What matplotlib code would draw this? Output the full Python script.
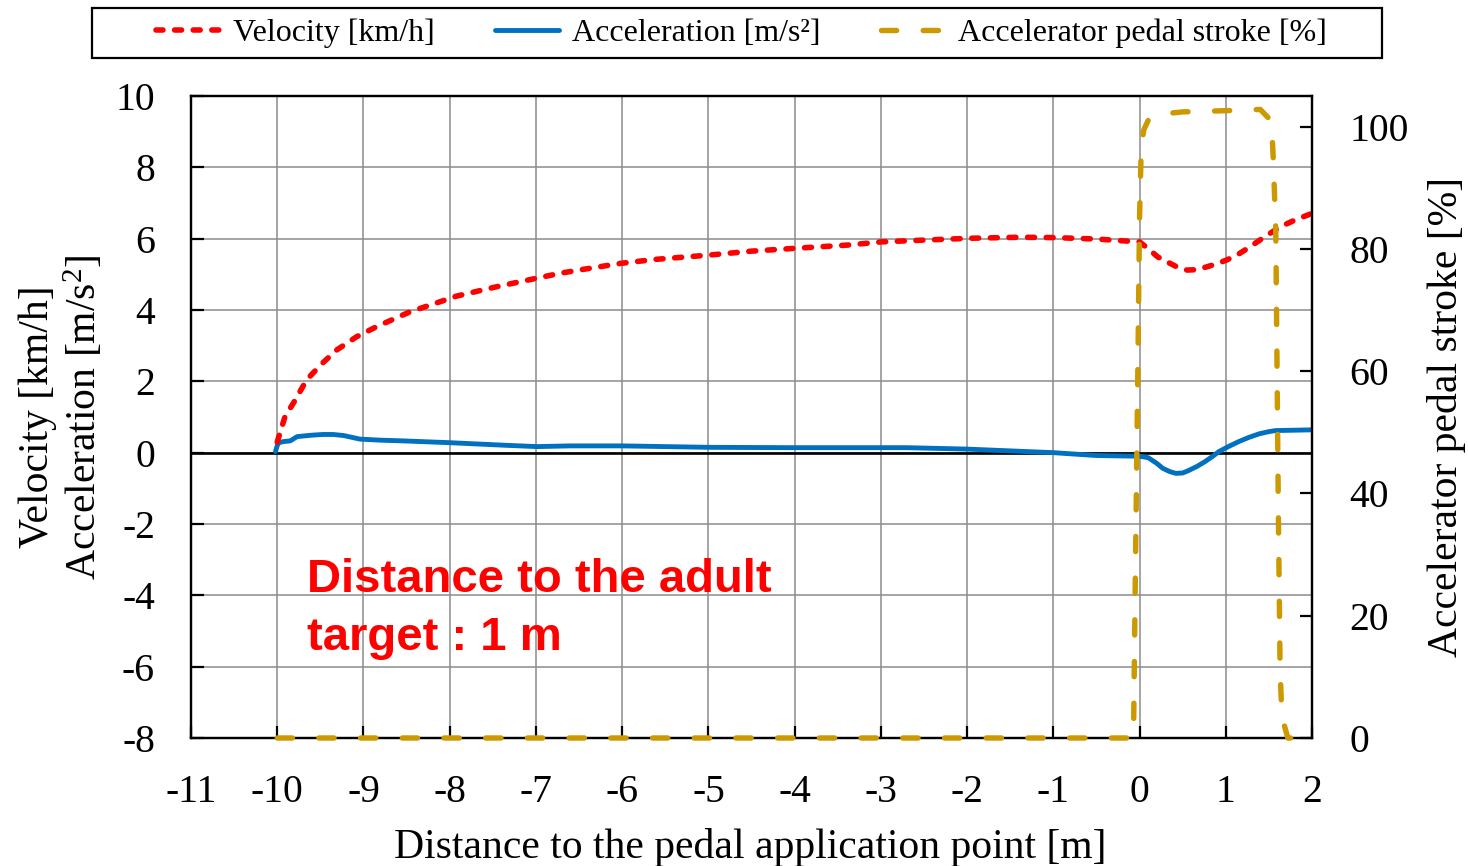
import matplotlib
matplotlib.use("Agg")
import matplotlib.pyplot as plt
from matplotlib.patches import Rectangle

# ---------------- data ----------------
vel_x = [-10.0, -9.91, -9.79, -9.66, -9.48, -9.31, -9.08, -8.85, -8.46, -8.15, -7.92,
         -7.46, -7.15, -6.72, -6.45, -6.01, -5.61, -4.99, -4.5, -3.99, -3.39, -2.99,
         -2.5, -1.99, -1.39, -0.99, -0.5, -0.19, 0.0, 0.1, 0.21, 0.32, 0.44, 0.55,
         0.66, 0.78, 0.9, 1.01, 1.15, 1.28, 1.45, 1.63, 1.8, 2.0]
vel_y = [0.3, 1.01, 1.48, 2.04, 2.50, 2.88, 3.25, 3.53, 3.95, 4.20, 4.39,
         4.65, 4.81, 5.03, 5.14, 5.31, 5.42, 5.54, 5.65, 5.73, 5.82, 5.91,
         5.96, 6.01, 6.04, 6.03, 5.99, 5.94, 5.91, 5.72, 5.49, 5.35, 5.2, 5.12,
         5.13, 5.21, 5.3, 5.40, 5.57, 5.77, 6.05, 6.33, 6.52, 6.71]

acc_x = [-10.02, -10.0, -9.98, -9.93, -9.85, -9.77, -9.6, -9.47, -9.35, -9.23, -9.04,
         -8.8, -8.54, -8.0, -7.38, -6.99, -6.6, -6.0, -5.0, -4.05, -2.7, -2.0, -1.5,
         -1.0, -0.5, 0.0, 0.1, 0.2, 0.27, 0.35, 0.42, 0.5, 0.57, 0.67, 0.76, 0.85,
         0.92, 1.03, 1.15, 1.27, 1.39, 1.5, 1.58, 1.8, 2.0]
acc_y = [0.03, 0.2, 0.28, 0.31, 0.33, 0.45, 0.49, 0.51, 0.51, 0.48, 0.38,
         0.35, 0.33, 0.28, 0.21, 0.17, 0.19, 0.19, 0.15, 0.14, 0.14, 0.10, 0.05,
         0.0, -0.08, -0.1, -0.14, -0.3, -0.44, -0.53, -0.58, -0.57, -0.5, -0.38, -0.25, -0.1,
         0.03, 0.17, 0.31, 0.43, 0.53, 0.59, 0.62, 0.63, 0.64]

ped_x = [-10.0, -0.07, -0.05, -0.02, 0.0, 0.02, 0.05, 0.1, 0.22, 0.5, 1.0, 1.4, 1.53,
         1.55, 1.58, 1.61, 1.63, 1.65, 1.68, 1.72, 2.0]
ped_y = [0, 0, 25, 60, 85, 96.8, 99.5, 101, 102, 102.4, 102.6, 102.8, 100.9,
         95, 83, 36.8, 11, 4, 2, 0, 0]

x_ticks = list(range(-11, 3))
left_ticks = list(range(-8, 11, 2))
right_ticks = list(range(0, 101, 20))

labels = ["Velocity [km/h]", "Acceleration [m/s\u00b2]", "Accelerator pedal stroke [%]"]

# ---------------- style ----------------
plt.rcParams["font.family"] = ["Liberation Serif", "DejaVu Serif"]
plt.rcParams["mathtext.fontset"] = "custom"
plt.rcParams["mathtext.rm"] = "Liberation Serif"
plt.rcParams["mathtext.it"] = "Liberation Serif"
plt.rcParams["axes.unicode_minus"] = False

RED = "#FF0000"
BLUE = "#0070C0"
GOLD = "#CC9900"
GRID = "#8C8C8C"

fig = plt.figure(figsize=(14.68, 8.66), dpi=100)
ax = fig.add_axes([191 / 1468, 1 - 738 / 866, (1312 - 191) / 1468, (738 - 96) / 866])
ax2 = ax.twinx()

ax.set_xlim(-11, 2)
ax.set_ylim(-8, 10)
ax2.set_ylim(0, 105)

ax.set_xticks(x_ticks)
ax.set_yticks(left_ticks)
ax2.set_yticks(right_ticks)

ax.grid(True, color=GRID, linewidth=1.1)
ax.set_axisbelow(True)
ax.axhline(0, color="black", linewidth=1.9, zorder=1.5)

l_vel, = ax.plot(vel_x, vel_y, color=RED, linewidth=4.0, linestyle=(0, (1.25, 2.1)),
                 dash_capstyle="round", solid_joinstyle="round", zorder=2.2)
l_acc, = ax.plot(acc_x, acc_y, color=BLUE, linewidth=3.5, solid_capstyle="round",
                 solid_joinstyle="round", zorder=2.1)
l_ped, = ax2.plot(ped_x, ped_y, color=GOLD, linewidth=3.9, linestyle=(0, (2.8, 4.9)),
                  dash_capstyle="round", clip_on=False, zorder=3)

for a in (ax, ax2):
    for s in a.spines.values():
        s.set_linewidth(1.6)
        s.set_color("black")

ax.tick_params(axis="both", direction="in", length=9, width=1.6, labelsize=28.5, pad=26,
               colors="black")
ax2.tick_params(axis="y", direction="in", length=9, width=1.6, labelsize=28.5, pad=27,
                colors="black")

# axis labels
ax.set_xlabel("Distance to the pedal application point [m]", fontsize=30)
ax.xaxis.set_label_coords((750.5 - 191) / 1121, (738 - 858) / 642)
ax.xaxis.label.set_verticalalignment("baseline")

ax.set_ylabel("Velocity [km/h]\nAcceleration [m/s$^{2}$]", fontsize=30, linespacing=1.15)
ax.yaxis.set_label_coords((62 - 191) / 1121, 0.5)
ax.yaxis.label.set_verticalalignment("center")

ax2.set_ylabel("Accelerator pedal stroke [%]", fontsize=30, rotation=90)
ax2.yaxis.set_label_coords((1447 - 191) / 1121, 0.5)
ax2.yaxis.label.set_verticalalignment("center")

# annotation
ann_kw = dict(transform=ax.transAxes, color=RED, fontsize=34, fontweight="bold",
              family=["Liberation Sans", "DejaVu Sans"], ha="left", va="baseline", zorder=4)
ax.text((307 - 191) / 1121, (738 - 592) / 642, "Distance to the adult", **ann_kw)
ax.text((307 - 191) / 1121, (738 - 650) / 642, "target : 1 m", **ann_kw)

# legend
fig.patches.append(Rectangle((92 / 1468, 1 - 58 / 866), (1382 - 92) / 1468, 50 / 866,
                             transform=fig.transFigure, fill=False, edgecolor="black",
                             linewidth=1.6))
fig.legend([l_vel, l_acc, l_ped], labels, loc="center",
           bbox_to_anchor=((92 + 1382) / 2 / 1468 + 0.003, 1 - 33 / 866),
           ncol=3, frameon=False, fontsize=23, handlelength=2.0, handletextpad=0.4,
           columnspacing=1.9, borderpad=0.0)

fig.savefig("out.png", dpi=100)
